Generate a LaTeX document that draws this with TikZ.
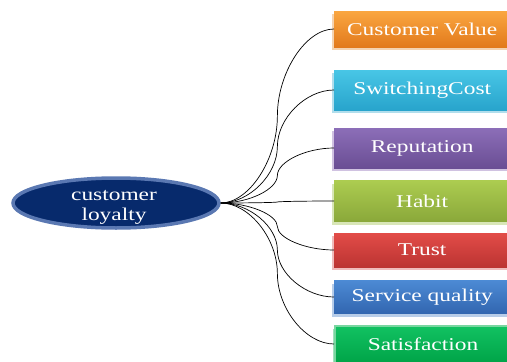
\documentclass[tikz,border=0pt]{standalone}
\usepackage{fontspec}
\setmainfont{Liberation Serif}
\usetikzlibrary{shapes.geometric,shadows,calc}
\definecolor{navy}{HTML}{072A6C}
\definecolor{navyglow}{HTML}{5A78B2}
\definecolor{cvT}{HTML}{FAA640}\definecolor{cvB}{HTML}{E27A1C}\definecolor{cvS}{HTML}{F0C090}
\definecolor{scT}{HTML}{48C6E6}\definecolor{scB}{HTML}{28A4CC}\definecolor{scS}{HTML}{90D0E4}
\definecolor{reT}{HTML}{8C6EB8}\definecolor{reB}{HTML}{6A4E94}\definecolor{reS}{HTML}{BCA8D4}
\definecolor{haT}{HTML}{ACCC50}\definecolor{haB}{HTML}{8AA83A}\definecolor{haS}{HTML}{C8DC98}
\definecolor{trT}{HTML}{E24C48}\definecolor{trB}{HTML}{BC3432}\definecolor{trS}{HTML}{E8A0A0}
\definecolor{sqT}{HTML}{4C8AD4}\definecolor{sqB}{HTML}{3266B0}\definecolor{sqS}{HTML}{98B8E0}
\definecolor{saT}{HTML}{12C262}\definecolor{saB}{HTML}{00A448}\definecolor{saS}{HTML}{78D6A0}
\tikzset{
  lbox/.style={rectangle, anchor=west, minimum width=176pt, text=white,
    font=\fontsize{18}{20}\selectfont, inner sep=0pt,
    drop shadow={shadow xshift=-2pt, shadow yshift=-3pt, opacity=0.7, fill=#1}},
  conn/.style={draw=black, line width=0.7pt},
  ovalnode/.style={ellipse, minimum width=206pt, minimum height=50pt, fill=navy,
    draw=navyglow, line width=3.5pt},
  ovaltext/.style={text=white, align=center, font=\fontsize{18}{20}\selectfont, inner sep=0pt},
}
\newcommand\wide[1]{\scalebox{1.3}[1]{#1}}
\newcommand\elbow[1]{%
  \draw[conn] let \p1=(hub), \p2=(#1.west) in (\p1)
    .. controls ({0.75*\x1+0.25*\x2},\y1) and ({0.5*\x1+0.5*\x2},{0.75*\y1+0.25*\y2})
    .. ({0.5*\x1+0.5*\x2},{0.5*\y1+0.5*\y2})
    .. controls ({0.5*\x1+0.5*\x2},{0.25*\y1+0.75*\y2}) and ({0.25*\x1+0.75*\x2},\y2)
    .. (\p2);}
\begin{document}
\begin{tikzpicture}[x=1pt,y=-1pt]
\useasboundingbox (0,0) rectangle (507,362);
\begin{scope}
\clip (0,0) rectangle (507,362);
\node[lbox=cvS, top color=cvT, bottom color=cvB, minimum height=36pt] (cv) at (334,29) {\wide{Customer Value}};
\node[lbox=scS, top color=scT, bottom color=scB, minimum height=40pt] (sc) at (334,90) {\wide{SwitchingCost}};
\node[lbox=reS, top color=reT, bottom color=reB, minimum height=40pt] (rep) at (334,148) {\wide{Reputation}};
\node[lbox=haS, top color=haT, bottom color=haB, minimum height=41pt] (hab) at (334,201) {\wide{Habit}};
\node[lbox=trS, top color=trT, bottom color=trB, minimum height=34pt] (tru) at (334,250) {\wide{Trust}};
\node[lbox=sqS, top color=sqT, bottom color=sqB, minimum height=33pt] (sq) at (334,297) {\wide{Service quality}};
\node[lbox=saS, top color=saT, bottom color=saB, minimum height=37pt, draw=saS, line width=2pt] (sat) at (334,344) {\wide{Satisfaction}};
\end{scope}
\node[ovalnode] (cl) at (116,203) {};
\node[ovaltext] (cltext) at (114,207) {\wide{customer}\\\wide{loyalty}};
\coordinate (hub) at (cl.east);
\elbow{cv}
\elbow{sc}
\elbow{rep}
\elbow{hab}
\elbow{tru}
\elbow{sq}
\elbow{sat}
\end{tikzpicture}
\end{document}
